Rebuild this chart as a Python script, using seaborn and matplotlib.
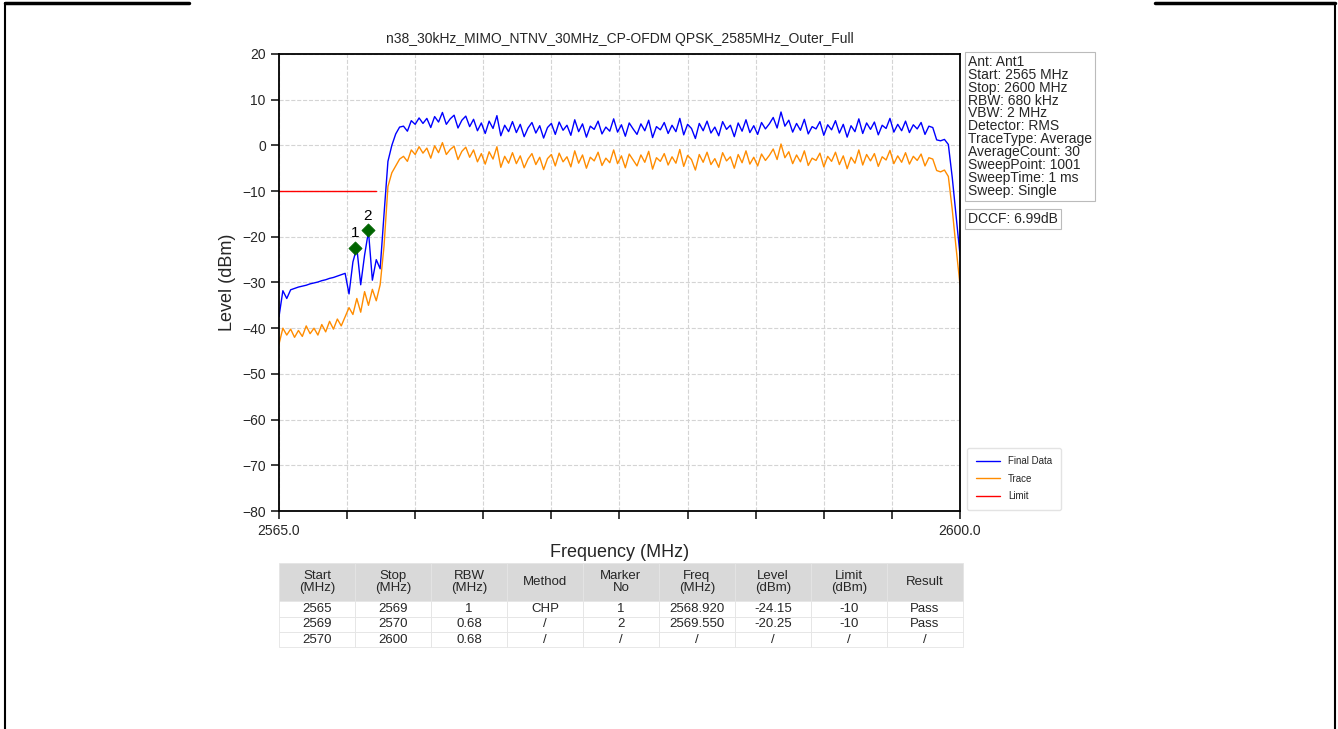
import numpy as np
import pandas as pd
import matplotlib
matplotlib.use("Agg")
import matplotlib.pyplot as plt
from matplotlib.lines import Line2D
import seaborn as sns

# sweep: 2565 .. 2600 MHz, read every 0.2 MHz
freq = np.round(np.arange(2565.0, 2600.01, 0.2), 1)

final_data = [
    -37.5, -31.8, -33.5, -31.6, -31.3, -31.0, -30.8, -30.6, -30.3, -30.1,
    -29.9, -29.6, -29.4, -29.1, -28.9, -28.6, -28.3, -28.0,
    -32.5, -25.5, -22.4, -30.5, -24.0, -18.8, -29.5, -25.0, -27.0,
    -15.0, -3.5, 0.0, 2.5, 4.0,
    4.2, 3.1, 5.4, 4.6, 6.0, 4.8, 5.9, 3.9, 6.3, 5.1,
    7.2, 4.6, 5.8, 6.6, 3.8, 5.5, 6.4, 4.1, 5.7, 3.2,
    4.9, 2.6, 5.3, 3.7, 6.5, 2.1, 4.4, 3.0, 5.2, 2.8,
    4.6, 1.9, 3.8, 5.0, 2.7, 4.3, 1.6, 3.9, 4.8, 2.4,
    5.1, 3.3, 4.4, 2.2, 5.6, 3.0, 4.7, 1.8, 4.2, 3.5,
    5.3, 2.5, 4.0, 3.1, 5.8, 2.9, 4.5, 2.0, 4.9, 3.6,
    2.4, 4.7, 3.2, 5.5, 1.7, 4.1, 3.4, 5.0, 2.6, 4.4,
    3.0, 5.9, 2.3, 4.6, 3.7, 1.5, 4.8, 3.2, 5.3, 2.7,
    4.0, 2.1, 5.2, 3.5, 4.4, 1.9, 4.9, 3.1, 5.6, 2.8,
    4.3, 2.4, 5.0, 3.6, 4.7, 6.1, 3.8, 7.3, 4.2, 5.5,
    2.9, 4.8, 3.3, 5.7, 2.5, 4.1, 3.6, 5.2, 2.2, 4.5,
    3.4, 5.4, 2.7, 4.6, 1.8, 4.3, 3.0, 5.8, 2.6, 4.9,
    3.5, 5.1, 2.3, 4.4, 3.7, 5.9, 2.9, 4.6, 3.2, 5.3,
    2.8, 4.5, 3.6, 5.0, 2.4, 4.2, 3.9, 1.2, 1.0, 1.3,
    0.2, -7.0, -15.5, -24.0,
]

trace = [
    -43.5, -40.0, -41.5, -40.2, -42.0, -40.5, -41.8, -39.5, -41.2, -40.0,
    -41.5, -39.2, -40.8, -38.5, -40.2, -38.0, -39.5, -37.5,
    -35.5, -37.0, -33.5, -36.5, -32.0, -35.0, -31.5, -34.0, -30.5,
    -22.0, -9.0, -6.0, -4.5, -3.0,
    -2.4, -3.5, -1.0, -2.0, -0.3, -1.7, -0.6, -2.8, -0.1, -1.6,
    0.6, -2.0, -0.9, -0.2, -3.1, -1.3, -0.4, -2.6, -1.0, -3.6,
    -1.8, -4.1, -1.4, -3.0, -0.3, -4.8, -2.4, -3.9, -1.6, -4.0,
    -2.3, -4.9, -3.0, -1.8, -4.2, -2.6, -5.3, -2.9, -2.0, -4.5,
    -1.7, -3.6, -2.5, -4.7, -1.2, -3.9, -2.1, -5.0, -2.6, -3.4,
    -1.5, -4.4, -2.8, -3.8, -1.0, -4.0, -2.3, -4.9, -1.9, -3.2,
    -4.5, -2.1, -3.7, -1.3, -5.2, -2.7, -3.5, -1.8, -4.3, -2.5,
    -3.9, -0.9, -4.6, -2.2, -3.1, -5.4, -2.0, -3.7, -1.5, -4.2,
    -2.9, -4.8, -1.6, -3.4, -2.5, -5.0, -2.0, -3.8, -1.2, -4.1,
    -2.6, -4.5, -1.9, -3.3, -2.2, -0.8, -3.1, 0.3, -2.7, -1.4,
    -4.0, -2.1, -3.6, -1.2, -4.4, -2.8, -3.3, -1.7, -4.7, -2.4,
    -3.5, -1.5, -4.2, -2.3, -5.1, -2.6, -3.9, -1.0, -4.3, -2.0,
    -3.4, -1.8, -4.6, -2.5, -3.2, -1.1, -4.0, -2.3, -3.7, -1.6,
    -4.1, -2.4, -3.3, -1.9, -4.5, -2.7, -3.0, -5.5, -5.8, -5.4,
    -6.8, -14.0, -22.5, -30.5,
]

limit_freq = [2565.0, 2570.0]
limit_level = [-10, -10]

marker_no = ["1", "2"]
marker_freq = [2568.92, 2569.55]
marker_level = [-22.4, -18.6]

title = "n38_30kHz_MIMO_NTNV_30MHz_CP-OFDM QPSK_2585MHz_Outer_Full"
info_lines = [
    "Ant: Ant1", "Start: 2565 MHz", "Stop: 2600 MHz", "RBW: 680 kHz",
    "VBW: 2 MHz", "Detector: RMS", "TraceType: Average", "AverageCount: 30",
    "SweepPoint: 1001", "SweepTime: 1 ms", "Sweep: Single",
]
dccf_text = "DCCF: 6.99dB"

table_header = ["Start\n(MHz)", "Stop\n(MHz)", "RBW\n(MHz)", "Method", "Marker\nNo",
                "Freq\n(MHz)", "Level\n(dBm)", "Limit\n(dBm)", "Result"]
table_rows = [
    ["2565", "2569", "1", "CHP", "1", "2568.920", "-24.15", "-10", "Pass"],
    ["2569", "2570", "0.68", "/", "2", "2569.550", "-20.25", "-10", "Pass"],
    ["2570", "2600", "0.68", "/", "/", "/", "/", "/", "/"],
]

sns.set_theme(style="ticks")
plt.rcParams["font.family"] = ["Liberation Sans", "DejaVu Sans"]

df = pd.DataFrame({"freq": freq, "Final Data": final_data, "Trace": trace})

fig = plt.figure(figsize=(13.38, 7.29), dpi=100)
ax = fig.add_axes([0.2085, 0.299, 0.509, 0.627])

sns.lineplot(data=df, x="freq", y="Final Data", color="blue", linewidth=1.0,
             label="Final Data", ax=ax)
sns.lineplot(data=df, x="freq", y="Trace", color="darkorange", linewidth=1.0,
             label="Trace", ax=ax)
sns.lineplot(x=limit_freq, y=limit_level, color="red", linewidth=1.0,
             label="Limit", ax=ax)
sns.scatterplot(x=marker_freq, y=marker_level, marker="D", color="darkgreen",
                s=45, edgecolor="darkgreen", zorder=5, legend=False, ax=ax)
for no, fx, fy in zip(marker_no, marker_freq, marker_level):
    ax.text(fx, fy + 1.6, no, ha="center", va="bottom", fontsize=11, color="black")

ax.set_xlim(2565, 2600)
ax.set_ylim(-80, 20)
xt = np.linspace(2565, 2600, 11)
ax.set_xticks(xt)
ax.set_xticklabels(["2565.0"] + [""] * 9 + ["2600.0"], fontsize=10)
ax.set_yticks(np.arange(-80, 21, 10))
ax.tick_params(axis="y", labelsize=10)
ax.grid(True, linestyle="--", color="#d4d4d4", linewidth=0.8)
for s in ax.spines.values():
    s.set_color("black")
    s.set_linewidth(1.3)

ax.set_title(title, fontsize=10, pad=8)
ax.set_xlabel("Frequency (MHz)", fontsize=13, labelpad=4)
ax.set_ylabel("Level (dBm)", fontsize=13, labelpad=4)

ax.text(1.012, 0.998, "\n".join(info_lines), transform=ax.transAxes, ha="left", va="top",
        fontsize=10, linespacing=0.9,
        bbox=dict(boxstyle="square,pad=0.2", fc="white", ec="#bbbbbb", lw=0.8))
ax.text(1.012, 0.639, dccf_text, transform=ax.transAxes, ha="left", va="center",
        fontsize=10, bbox=dict(boxstyle="square,pad=0.2", fc="white", ec="#bbbbbb", lw=0.8))

leg = ax.legend(loc="lower left", bbox_to_anchor=(1.003, -0.008), fontsize=7,
                frameon=True, handlelength=2.5, borderpad=0.9, labelspacing=0.75)
leg.get_frame().set_edgecolor("#dddddd")

# result table under the plot
tab = ax.table(cellText=table_rows, colLabels=table_header, cellLoc="center",
               bbox=[0.0, -0.298, 1.004, 0.184])
tab.auto_set_font_size(False)
for (r, c), cell in tab.get_celld().items():
    cell.set_edgecolor("#e4e4e4")
    cell.set_linewidth(0.6)
    cell.get_text().set_fontsize(9.5)
    cell.get_text().set_fontfamily(["Liberation Sans Narrow", "Liberation Sans", "DejaVu Sans"])
    cell.get_text().set_linespacing(0.95)
    if r == 0:
        cell.set_facecolor("#d9d9d9")
        cell.set_height(2.5)
    else:
        cell.set_height(1.0)

# page frame around the figure
frame = dict(color="black", linewidth=2.5, transform=fig.transFigure)
fig.add_artist(Line2D([0.004, 0.141], [0.996, 0.996], **frame))
fig.add_artist(Line2D([0.863, 0.998], [0.996, 0.996], **frame))
fig.add_artist(Line2D([0.004, 0.004], [0.0, 0.996], color="black", linewidth=1.5,
                      transform=fig.transFigure))
fig.add_artist(Line2D([0.998, 0.998], [0.0, 0.996], color="black", linewidth=1.5,
                      transform=fig.transFigure))

fig.savefig("out.png", dpi=100)
